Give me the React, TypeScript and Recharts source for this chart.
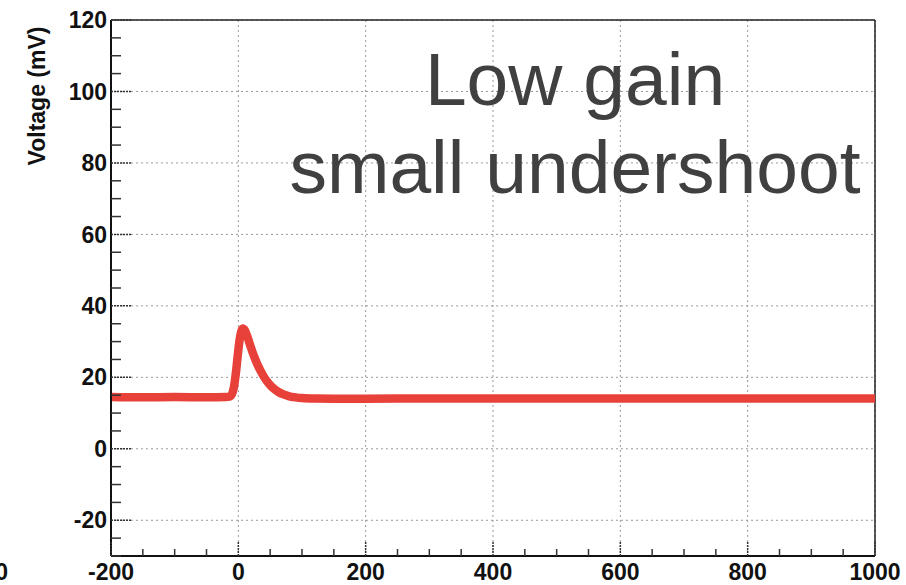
import React from 'react';
import { LineChart, Line, XAxis, YAxis, CartesianGrid, ReferenceLine, Customized } from 'recharts';

const timeNs = [-200, -150, -100, -50, -20, -14, -10, -7, -4, -1, 2, 4.5, 7, 10, 14, 18, 22, 26, 30, 35, 40, 45, 50, 56, 63, 70, 80, 90, 100, 120, 150, 200, 300, 400, 500, 600, 700, 800, 900, 1000];
const voltageMv = [14.5, 14.4, 14.5, 14.4, 14.5, 14.6, 15.3, 17.2, 21, 26, 30.5, 32.8, 33.7, 33.2, 31.5, 29.3, 27.2, 25.3, 23.6, 21.8, 20.2, 18.9, 17.8, 16.8, 15.9, 15.3, 14.7, 14.4, 14.2, 14.05, 14.0, 14.0, 14.1, 14.1, 14.1, 14.1, 14.1, 14.1, 14.1, 14.1];

const xMajorTicks = [-200, 0, 200, 400, 600, 800, 1000];
const xMinorTicks = [-200, -150, -100, -50, 0, 50, 100, 150, 200, 250, 300, 350, 400, 450, 500, 550, 600, 650, 700, 750, 800, 850, 900, 950, 1000];
const yMajorTicks = [-20, 0, 20, 40, 60, 80, 100, 120];
const yMinorTicks = [-30, -25, -20, -15, -10, -5, 0, 5, 10, 15, 20, 25, 30, 35, 40, 45, 50, 55, 60, 65, 70, 75, 80, 85, 90, 95, 100, 105, 110, 115, 120];

const titleLines = ['Low gain', 'small undershoot'];
const yLabel = 'Voltage (mV)';

const data = timeNs.map((x, i) => ({ x, v: voltageMv[i] }));

const FONT = '"Liberation Sans", Arial, Helvetica, sans-serif';
const tickStyle = { fontSize: 23, fontWeight: 700, fill: '#111', fontFamily: FONT };

const YTickMark = (props: any) => {
  const { x, y, payload } = props;
  const major = payload.value % 20 === 0;
  const len = major ? 20 : 10;
  return (
    <line x1={x} x2={x + len} y1={y} y2={y} stroke="#333" strokeWidth={1.5} strokeDasharray={major ? '2 1' : undefined} />
  );
};

const XTickMark = (props: any) => {
  const { x, y, payload } = props;
  const major = payload.value % 200 === 0;
  const len = major ? 15 : 7;
  return (
    <line x1={x} x2={x} y1={y} y2={y - len} stroke="#333" strokeWidth={1.5} strokeDasharray={major ? '2 1' : undefined} />
  );
};

const Overlay = () => (
  <g>
    <text x={575} y={105} textAnchor="middle" fontSize={75} fill="#404040" fontFamily={FONT}>{titleLines[0]}</text>
    <text x={575} y={193} textAnchor="middle" fontSize={75} fill="#404040" fontFamily={FONT}>{titleLines[1]}</text>
    <text x={45} y={96} textAnchor="middle" fontSize={23} fontWeight={700} fill="#111" fontFamily={FONT} transform="rotate(-90, 45, 96)">{yLabel}</text>
    <text x={8} y={580} textAnchor="end" fontSize={23} fontWeight={700} fill="#111" fontFamily={FONT}>0</text>
  </g>
);

export default function App() {
  return (
    <div style={{ position: 'absolute', left: 0, top: 0, width: 906, height: 585, background: '#fff' }}>
      <LineChart width={906} height={585} data={data} margin={{ top: 20, right: 31, bottom: 0, left: 0 }}>
        <CartesianGrid stroke="#999" strokeDasharray="2 3" strokeWidth={1} />
        <XAxis
          type="number"
          dataKey="x"
          domain={[-200, 1000]}
          ticks={xMajorTicks}
          height={29}
          tickSize={0}
          tickMargin={8}
          tickLine={false}
          axisLine={{ stroke: '#111', strokeWidth: 2 }}
          tick={tickStyle}
          interval={0}
          allowDataOverflow
        />
        <XAxis
          xAxisId="marks"
          type="number"
          dataKey="x"
          domain={[-200, 1000]}
          ticks={xMinorTicks}
          height={20}
          mirror
          tickSize={0}
          tickMargin={0}
          tickLine={false}
          axisLine={false}
          tick={<XTickMark />}
          interval={0}
          allowDataOverflow
        />
        <YAxis
          type="number"
          domain={[-30, 120]}
          ticks={yMajorTicks}
          width={111}
          tickSize={0}
          tickMargin={4}
          tickLine={false}
          axisLine={{ stroke: '#111', strokeWidth: 2 }}
          tick={tickStyle}
          interval={0}
          allowDataOverflow
        />
        <YAxis
          yAxisId="marks"
          type="number"
          domain={[-30, 120]}
          ticks={yMinorTicks}
          width={20}
          mirror
          tickSize={0}
          tickMargin={0}
          tickLine={false}
          axisLine={false}
          tick={<YTickMark />}
          interval={0}
          allowDataOverflow
        />
        <ReferenceLine y={120} stroke="#222" strokeWidth={1.5} ifOverflow="visible" />
        <ReferenceLine x={1000} stroke="#222" strokeWidth={1.5} ifOverflow="visible" />
        <Line
          xAxisId="marks"
          yAxisId="marks"
          type="monotone"
          dataKey="v"
          stroke="#e8413a"
          strokeWidth={8.5}
          strokeLinecap="round"
          strokeLinejoin="round"
          dot={false}
          isAnimationActive={false}
        />
        <Line
          type="monotone"
          dataKey="v"
          stroke="none"
          strokeWidth={0}
          dot={false}
          activeDot={false}
          isAnimationActive={false}
        />
        <Customized component={Overlay} />
      </LineChart>
    </div>
  );
}
